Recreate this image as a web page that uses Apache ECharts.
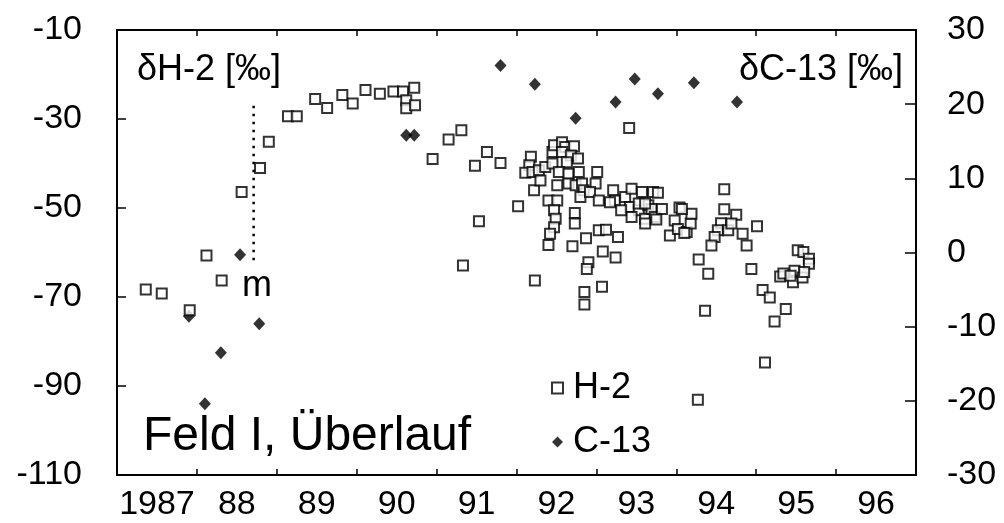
<!DOCTYPE html>
<html>
<head>
<meta charset="utf-8">
<script src="https://cdn.jsdelivr.net/npm/echarts@6/dist/echarts.min.js"></script>
<style>
  html, body { margin: 0; background: #fff; }
  #chart { width: 1004px; height: 523px; }
</style>
</head>
<body>
<div id="chart"></div>
<script>
// Jahr-Beschriftungen (mittig im Jahresintervall)
const yearLabels = ['1987', '88', '89', '90', '91', '92', '93', '94', '95', '96']

// δH-2 Messwerte (linke Achse)
const h2Year = [
  1987.36, 1987.56, 1987.91, 1988.12, 1988.31, 1988.56, 1988.79, 1988.90, 1989.14, 1989.25,
  1989.48, 1989.63, 1989.82, 1989.95, 1990.11, 1990.29, 1990.46, 1990.58, 1990.72, 1990.62,
  1990.62, 1990.73, 1990.95, 1991.15, 1991.31, 1991.48, 1991.63, 1991.80, 1991.33, 1991.53,
  1992.02, 1992.23, 1993.41, 1994.27,
  1992.18, 1992.16, 1992.11, 1992.20, 1992.28, 1992.22, 1992.30, 1992.36, 1992.45, 1992.45,
  1992.47, 1992.57, 1992.61, 1992.57, 1992.72, 1992.68, 1992.77, 1992.63, 1992.53, 1992.65,
  1992.78, 1992.51, 1992.65, 1992.74, 1992.82, 1993.01, 1992.99, 1992.84, 1992.80, 1992.92,
  1993.03, 1992.40, 1992.51, 1992.47, 1992.49, 1992.47, 1992.42, 1992.40, 1992.73, 1992.73,
  1992.70, 1992.87, 1993.03, 1993.12, 1993.27, 1993.08, 1993.24, 1992.90, 1992.88, 1993.07,
  1992.85, 1992.85, 1993.21, 1993.23, 1993.17, 1993.36, 1993.44, 1993.57, 1993.42, 1993.53,
  1993.65, 1993.71, 1993.61, 1993.69, 1993.73, 1993.44, 1993.31, 1993.53,
  1993.61, 1993.82, 1993.61, 1993.75, 1993.92, 1993.98, 1994.02, 1994.04, 1994.13, 1994.18,
  1994.19, 1993.77,
  1994.60, 1994.60, 1994.75, 1994.07, 1994.10, 1994.56, 1994.52, 1994.48, 1994.44, 1994.65,
  1994.69, 1994.83, 1994.88, 1995.01, 1994.28, 1994.40, 1994.94, 1994.36, 1995.08, 1995.17,
  1995.37, 1995.23, 1995.11, 1995.52, 1995.59, 1995.66, 1995.66, 1995.30, 1995.34, 1995.46,
  1995.48, 1995.58, 1995.60, 1995.43
]
const h2Value = [
  -68.3, -69.2, -73.0, -60.7, -66.3, -46.4, -41.0, -35.1, -29.4, -29.4,
  -25.5, -27.5, -24.6, -26.5, -23.5, -24.3, -23.8, -23.8, -23.0, -25.8,
  -27.6, -26.9, -39.0, -34.6, -32.5, -40.5, -37.4, -39.9, -62.9, -53.0,
  -49.6, -66.3, -32.0, -93.1,
  -38.5, -40.4, -42.1, -41.9, -41.5, -46.0, -43.8, -40.8, -40.0, -37.4,
  -35.9, -35.2, -36.3, -37.4, -36.1, -38.2, -38.9, -39.7, -41.9, -42.3,
  -41.9, -44.9, -44.5, -44.9, -44.5, -41.9, -44.5, -46.0, -47.5, -46.4,
  -48.3, -48.3, -48.3, -50.5, -52.4, -54.3, -55.8, -58.3, -51.1, -53.5,
  -58.6, -56.8, -55.0, -54.9, -56.5, -59.8, -61.1, -62.2, -63.7, -67.7,
  -68.9, -71.7, -46.0, -48.3, -48.7, -47.5, -45.7, -46.4, -49.8, -50.5,
  -49.4, -46.4, -52.4, -50.2, -52.0, -52.0, -50.5, -49.0,
  -49.0, -50.2, -53.5, -52.6, -56.2, -52.8, -54.7, -49.9, -55.4, -53.5,
  -51.3, -46.6,
  -45.8, -50.3, -51.5, -50.2, -55.6, -53.4, -55.0, -56.5, -58.4, -55.0,
  -53.5, -55.8, -58.4, -54.1, -61.6, -64.8, -63.7, -73.1, -68.4, -70.1,
  -72.7, -75.5, -84.7, -59.5, -59.9, -61.4, -62.5, -65.4, -64.7, -66.7,
  -64.1, -65.6, -64.4, -65.2
]

// δC-13 Messwerte (rechte Achse)
const c13Year = [1987.90, 1988.10, 1988.30, 1988.54, 1988.78, 1990.62, 1990.72, 1991.80,
  1992.23, 1992.74, 1993.24, 1993.48, 1993.77, 1994.22, 1994.76]
const c13Value = [-8.6, -20.4, -13.5, -0.3, -9.6, 15.8, 15.8, 25.2,
  22.7, 18.1, 20.3, 23.4, 21.4, 22.9, 20.3]

// Markierung "m"
const markYear = 1988.71
const markRange = [-27, -62]

const FONT = 'Liberation Sans, Arial, sans-serif'

const chart = echarts.init(document.getElementById('chart'))

const h2Data = h2Year.map((x, i) => [x, h2Value[i]])
const c13Data = c13Year.map((x, i) => [x, c13Value[i]])

const tickAxis = (position, showLabel) => ({
  type: 'category',
  data: yearLabels,
  position: position,
  boundaryGap: true,
  axisLine: { show: true, lineStyle: { color: '#000', width: 2 } },
  axisTick: { show: true, inside: true, length: 6, interval: 0, lineStyle: { color: '#000', width: 1.5 } },
  axisLabel: {
    show: showLabel,
    interval: 0,
    color: '#000',
    fontFamily: FONT,
    fontSize: 34,
    margin: 13
  },
  splitLine: { show: false }
})

chart.setOption({
  backgroundColor: '#fff',
  animation: false,
  grid: { left: 117, right: 88, top: 30, bottom: 48 },
  xAxis: [
    { type: 'value', min: 1987, max: 1997, show: false },
    tickAxis('bottom', true),
    tickAxis('top', false)
  ],
  yAxis: [
    {
      type: 'value',
      min: -110,
      max: -10,
      interval: 20,
      position: 'left',
      axisLine: { show: true, lineStyle: { color: '#000', width: 2 } },
      axisTick: { show: true, inside: true, length: 9, lineStyle: { color: '#000', width: 1.5 } },
      axisLabel: { color: '#000', fontFamily: FONT, fontSize: 34, margin: 35 },
      splitLine: { show: false }
    },
    {
      type: 'value',
      min: -30,
      max: 30,
      interval: 10,
      position: 'right',
      axisLine: { show: true, lineStyle: { color: '#000', width: 2 } },
      axisTick: { show: true, inside: true, length: 11, lineStyle: { color: '#000', width: 1.5 } },
      axisLabel: { color: '#000', fontFamily: FONT, fontSize: 34, margin: 31 },
      splitLine: { show: false }
    }
  ],
  legend: {
    orient: 'vertical',
    left: 546,
    top: 365,
    itemGap: 18,
    itemWidth: 11,
    itemHeight: 11,
    data: ['H-2', 'C-13'],
    textStyle: { color: '#000', fontFamily: FONT, fontSize: 36, padding: [0, 0, 0, 5] }
  },
  graphic: [
    { type: 'text', left: 137, top: 52, style: { text: 'δH-2 [‰]', font: '36px ' + FONT, fill: '#000' } },
    { type: 'text', right: 101, top: 52, style: { text: 'δC-13 [‰]', font: '36px ' + FONT, fill: '#000' } },
    { type: 'text', left: 143, top: 413, style: { text: 'Feld I, Überlauf', font: '48px ' + FONT, fill: '#000' } },
    { type: 'text', left: 242, top: 268, style: { text: 'm', font: '36px ' + FONT, fill: '#000' } }
  ],
  series: [
    {
      name: 'm',
      type: 'line',
      xAxisIndex: 0,
      yAxisIndex: 0,
      data: [[markYear, markRange[0]], [markYear, markRange[1]]],
      symbol: 'none',
      lineStyle: { color: '#000', width: 2.5, type: [2.5, 5.5] },
      silent: true,
      z: 1
    },
    {
      name: 'C-13',
      type: 'scatter',
      xAxisIndex: 0,
      yAxisIndex: 1,
      data: c13Data,
      symbol: 'diamond',
      symbolSize: [12, 13],
      itemStyle: { color: '#000' },
      z: 2
    },
    {
      name: 'H-2',
      type: 'scatter',
      xAxisIndex: 0,
      yAxisIndex: 0,
      data: h2Data,
      symbol: 'rect',
      symbolSize: 10,
      itemStyle: { color: '#fff', borderColor: '#000', borderWidth: 2 },
      z: 3
    }
  ]
})
</script>
</body>
</html>
